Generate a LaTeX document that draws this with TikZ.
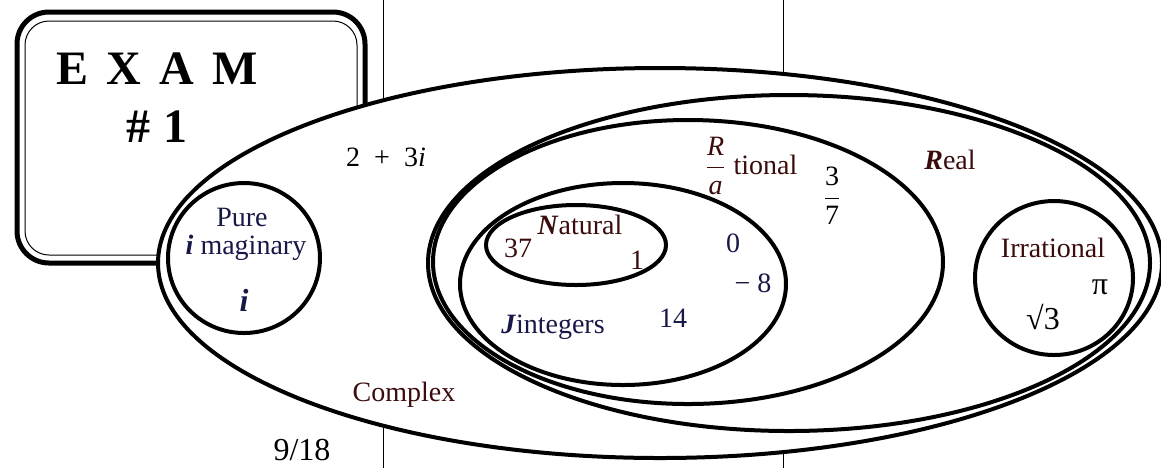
\documentclass[tikz,border=0pt]{standalone}
\usepackage{fontspec}
\setmainfont{Liberation Serif}
\usepackage{tikz}
\usetikzlibrary{positioning}
\definecolor{navyink}{RGB}{24,24,72}
\definecolor{maroonink}{RGB}{58,12,12}

\begin{document}
\begin{tikzpicture}[
    x=0.5pt, y=-0.5pt,
    every node/.style={font=\fontsize{14}{16}\selectfont, inner sep=0pt},
    setline/.style={line width=2pt},
    navy/.style={text=navyink},
    maroon/.style={text=maroonink},
    big/.style={font=\fontsize{24}{28}\selectfont\bfseries},
    large/.style={font=\fontsize{16}{18}\selectfont}
]
\useasboundingbox (0,0) rectangle (1161,468);
\draw[line width=0.5pt] (383,0) -- (383,468);
\draw[line width=0.5pt] (783,0) -- (783,468);

\draw[line width=2.5pt, rounded corners=16pt] (17,12) rectangle (365,263);
\draw[line width=0.5pt, rounded corners=12pt] (25,21) rectangle (357,255);
\node[big] (exam) at (157,69) {E\hspace{9pt}X\hspace{9pt}A\hspace{9pt}M};
\node[big] (num) at (157,127) {\#\hspace{7pt}1};

\draw[setline, fill=white] (660,263) ellipse [x radius=502, y radius=195];
\draw[setline] (244,258) ellipse [x radius=76, y radius=75];
\draw[setline] (789,263) ellipse [x radius=361, y radius=168];
\draw[setline] (688,262) ellipse [x radius=255, y radius=142];
\draw[setline] (623,284) ellipse [x radius=163, y radius=101];
\draw[setline] (576,245) ellipse [x radius=90, y radius=40];
\draw[setline] (1054,278) ellipse [x radius=79, y radius=77];

\node[navy] (pure) at (242,217) {Pure};
\node[navy] (imag) at (246,248) {\textbf{\textit{i}} maginary};
\node[navy, large] (ipt) at (244,300) {\textbf{\textit{i}}};
\node (cplx) at (386,157) {2\ \ +\ \ 3\textit{i}};
\node[maroon] (rat) at (751,166) {$\displaystyle\frac{\mbox{\itshape R}}{\mbox{\itshape a}}$ tional};
\node (frac) at (832,196) {$\displaystyle\frac{\mbox{3}}{\mbox{7}}$};
\node[maroon] (real) at (950,160) {\textbf{\textit{R}}eal};
\node[maroon] (irr) at (1053,248) {Irrational};
\node[large] (pi) at (1100,287) {π};
\node[large] (sq) at (1043,317) {√3};
\node[maroon] (nat) at (580,225) {\textbf{\textit{N}}atural};
\node[maroon] (n37) at (518,248) {37};
\node[maroon] (n1) at (637,260) {1};
\node[navy] (n0) at (733,243) {0};
\node[navy] (n8) at (753,283) {−\ 8};
\node[navy] (n14) at (673,318) {14};
\node[navy] (intg) at (553,327) {\textbf{\textit{J}}integers};
\node[maroon] (cpx) at (404,395) {Complex};
\node[large] (page) at (302,450) {9/18};
\end{tikzpicture}
\end{document}
